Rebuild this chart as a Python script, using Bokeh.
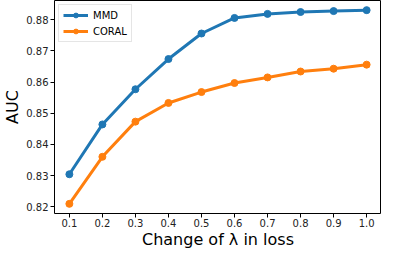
from bokeh.plotting import figure
from bokeh.embed import file_html
from bokeh.resources import INLINE
from bokeh.models import FixedTicker, Legend, LegendItem

lambdas = [0.1, 0.2, 0.3, 0.4, 0.5, 0.6, 0.7, 0.8, 0.9, 1.0]
mmd = [0.8304, 0.8464, 0.8577, 0.8674, 0.8756, 0.8806, 0.8819, 0.8825, 0.8828, 0.8831]
coral = [0.8209, 0.8360, 0.8473, 0.8533, 0.8568, 0.8597, 0.8615, 0.8634, 0.8643, 0.8656]
x_ticks = [0.1, 0.2, 0.3, 0.4, 0.5, 0.6, 0.7, 0.8, 0.9, 1.0]
y_ticks = [0.82, 0.83, 0.84, 0.85, 0.86, 0.87, 0.88]

FONT = "DejaVu Sans"

p = figure(width=381, height=251, output_backend="svg", toolbar_location=None,
           x_range=(0.055, 1.045), y_range=(0.8178, 0.8862),
           min_border_left=10, min_border_right=0, min_border_top=0, min_border_bottom=0)

p.xgrid.visible = False
p.ygrid.visible = False
p.outline_line_color = "black"
p.outline_line_width = 1
p.outline_line_alpha = 1
p.background_fill_color = "white"
p.border_fill_color = "white"

for ax in (p.xaxis[0], p.yaxis[0]):
    ax.axis_line_color = None
    ax.major_tick_line_color = "black"
    ax.major_tick_out = 4
    ax.major_tick_in = 0
    ax.minor_tick_line_color = None
    ax.major_label_text_font = FONT
    ax.major_label_text_font_size = "10px"
    ax.major_label_text_color = "#222222"
    ax.major_label_standoff = 2
    ax.axis_label_text_font = FONT
    ax.axis_label_text_font_size = "16px"
    ax.axis_label_text_font_style = "normal"
    ax.axis_label_text_color = "black"
    ax.axis_label_standoff = 1

p.xaxis[0].major_label_standoff = 1
p.xaxis[0].axis_label_standoff = 0

p.xaxis[0].ticker = FixedTicker(ticks=x_ticks)
p.yaxis[0].ticker = FixedTicker(ticks=y_ticks)
p.xaxis[0].major_label_overrides = {t: f"{t:.1f}" for t in x_ticks}
p.yaxis[0].major_label_overrides = {t: f"{t:.2f}" for t in y_ticks}
p.xaxis[0].axis_label = "Change of λ in loss"
p.yaxis[0].axis_label = "AUC"

l1 = p.line(lambdas, mmd, line_color="#1f77b4", line_width=3)
c1 = p.scatter(lambdas, mmd, size=7, fill_color="#1f77b4", line_color="#1f77b4")
l2 = p.line(lambdas, coral, line_color="#ff7f0e", line_width=3)
c2 = p.scatter(lambdas, coral, size=7, fill_color="#ff7f0e", line_color="#ff7f0e")

legend = Legend(items=[LegendItem(label="MMD", renderers=[l1, c1]),
                       LegendItem(label="CORAL", renderers=[l2, c2])],
                location="top_left")
legend.label_text_font = FONT
legend.label_text_font_size = "10px"
legend.label_text_color = "black"
legend.glyph_width = 25
legend.glyph_height = 12
legend.label_height = 12
legend.spacing = 4
legend.padding = 4
legend.margin = 4
legend.label_standoff = 5
legend.border_line_color = "#cccccc"
legend.border_line_width = 1
legend.background_fill_alpha = 0.8
p.add_layout(legend)

open("out.html", "w").write(file_html(p, INLINE))
